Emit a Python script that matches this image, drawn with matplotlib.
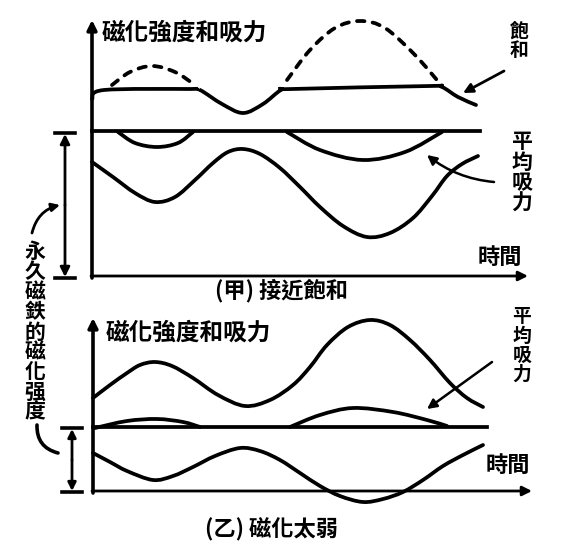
import numpy as np
import matplotlib.pyplot as plt
from matplotlib.path import Path
from matplotlib.patches import PathPatch

plt.rcParams['font.family'] = ['Noto Sans CJK TC', 'DejaVu Sans']

# ---- panel (甲): curves, (time px, level px) ----
jia_sat = [(92, 99), (104, 90), (190, 89), (200, 90), (222, 104), (243, 113), (263, 104),
           (281, 90), (292, 89), (430, 86), (442, 87), (458, 97), (476, 105)]
jia_dash1 = [(112, 85), (130, 72), (152, 66), (175, 72), (195, 85)]
jia_dash2 = [(287, 80), (310, 50), (335, 28), (360, 21), (385, 28), (415, 55), (442, 86)]
jia_force1 = [(118, 132), (135, 143), (157, 147), (178, 143), (193, 132)]
jia_force2 = [(287, 132), (320, 150), (363, 160), (405, 152), (442, 132)]
jia_mag = [(92, 162), (113, 177), (135, 193), (155, 202), (175, 197), (195, 180), (213, 163),
           (228, 152), (243, 149), (260, 154), (280, 168), (300, 187), (320, 207), (343, 226),
           (367, 237), (390, 233), (413, 218), (432, 196), (447, 176), (462, 164), (478, 156)]
jia_level = 131

# ---- panel (乙) ----
yi_top = [(93, 398), (110, 385), (127, 373), (140, 365), (155, 362), (172, 366), (193, 378),
          (218, 395), (245, 406), (270, 400), (293, 385), (310, 367), (327, 345), (348, 327),
          (370, 320), (390, 325), (410, 340), (430, 360), (450, 383), (467, 398), (483, 407)]
yi_force1 = [(95, 428), (127, 421), (157, 419), (183, 422), (200, 427)]
yi_force2 = [(290, 427), (320, 415), (353, 408), (393, 412), (427, 420), (447, 426)]
yi_mag = [(93, 453), (110, 462), (127, 471), (153, 480), (173, 476), (193, 467), (215, 456),
          (240, 448), (260, 451), (280, 460), (300, 473), (320, 486), (340, 496), (363, 502),
          (383, 499), (403, 492), (423, 480), (443, 466), (463, 455), (483, 445)]
yi_level = 427

ylabel = '磁化強度和吸力'
xlabel = '時間'
cap_jia = '(甲) 接近飽和'
cap_yi = '(乙) 磁化太弱'
side_label = '永久磁鉄的磁化强度'


def smooth(ax, pts, **kw):
    p = np.array(pts, dtype=float)
    ext = np.vstack([p[0], p, p[-1]])
    verts = [p[0]]
    codes = [Path.MOVETO]
    for i in range(1, len(ext) - 2):
        c1 = ext[i] + (ext[i + 1] - ext[i - 1]) / 6
        c2 = ext[i + 1] - (ext[i + 2] - ext[i]) / 6
        verts += [c1, c2, ext[i + 1]]
        codes += [Path.CURVE4] * 3
    ax.add_patch(PathPatch(Path(verts, codes), fill=False, capstyle='round', **kw))


def arrow(ax, start, end, style='-|>', lw=2.0, conn='arc3', ms=12):
    ax.annotate('', xy=end, xytext=start,
                arrowprops=dict(arrowstyle=style, lw=lw, color='black', mutation_scale=ms,
                                connectionstyle=conn, shrinkA=0, shrinkB=0))


def vtext(ax, x, y, s, size=15, step=20):
    # one character per text, stacked downward
    for i, ch in enumerate(s):
        ax.text(x, y + i * step, ch, fontsize=size, fontweight='bold',
                ha='center', va='center')


fig = plt.figure(figsize=(5.61, 5.58), dpi=100)
ax = fig.add_axes([0, 0, 1, 1])
ax.set_xlim(0, 561)
ax.set_ylim(558, 0)
ax.axis('off')

lw = 2.7

# panel 甲 axes
arrow(ax, (92, 278), (92, 20), lw=2.6, ms=14)
arrow(ax, (91, 276), (528, 276), lw=2.0, ms=14)
ax.plot([92, 480], [jia_level, jia_level], color='black', lw=lw)
smooth(ax, jia_sat, lw=lw, color='black')
smooth(ax, jia_dash1, lw=lw, color='black', linestyle=(0, (2, 2.2)))
smooth(ax, jia_dash2, lw=lw, color='black', linestyle=(0, (2, 2.2)))
smooth(ax, jia_force1, lw=lw, color='black')
smooth(ax, jia_force2, lw=lw, color='black')
smooth(ax, jia_mag, lw=lw, color='black')

ax.text(102, 33, ylabel, fontsize=17, fontweight='bold', ha='left', va='center')
ax.text(500, 257, xlabel, fontsize=16, fontweight='bold', ha='center', va='center')
ax.text(282, 291, cap_jia, fontsize=16, fontweight='bold', ha='center', va='center')
vtext(ax, 519, 31, '飽和', size=13.5, step=19)
arrow(ax, (504, 71), (463, 93), lw=2.0, ms=14)
vtext(ax, 522, 142, '平均吸力', size=15, step=20.5)
arrow(ax, (494, 182), (427, 155), lw=1.8, conn='arc3,rad=-0.15', ms=14)

# left double arrow for 甲
arrow(ax, (65, 205), (65, 134), lw=2.0, ms=14)
arrow(ax, (65, 205), (65, 277), lw=2.0, ms=14)
ax.plot([55, 75], [133, 133], color='black', lw=2.6)
ax.plot([55, 75], [278, 278], color='black', lw=2.6)

# side label
vtext(ax, 35, 252, side_label, size=15, step=20)
arrow(ax, (32, 233), (60, 205), lw=2.0, conn='arc3,rad=-0.3', ms=12)
arrow(ax, (37, 425), (58, 453), style='-', lw=2.6, conn='arc3,rad=0.4')

# panel 乙 axes
arrow(ax, (93, 493), (93, 318), lw=2.6, ms=14)
arrow(ax, (92, 491), (532, 491), lw=2.0, ms=14)
ax.plot([93, 487], [yi_level, yi_level], color='black', lw=lw)
smooth(ax, yi_top, lw=lw, color='black')
smooth(ax, yi_force1, lw=lw, color='black')
smooth(ax, yi_force2, lw=lw, color='black')
smooth(ax, yi_mag, lw=lw, color='black')

ax.text(106, 333, ylabel, fontsize=17, fontweight='bold', ha='left', va='center')
ax.text(508, 465, xlabel, fontsize=16, fontweight='bold', ha='center', va='center')
ax.text(272, 530, cap_yi, fontsize=16, fontweight='bold', ha='center', va='center')
vtext(ax, 522, 317, '平均吸力', size=13.5, step=19)
arrow(ax, (492, 362), (427, 409), lw=1.8, ms=14)

# left double arrow for 乙
arrow(ax, (72, 460), (72, 429), lw=2.0, ms=12)
arrow(ax, (72, 460), (72, 491), lw=2.0, ms=12)
ax.plot([62, 82], [428, 428], color='black', lw=2.6)
ax.plot([62, 82], [492, 492], color='black', lw=2.6)

fig.savefig('out.png', dpi=100, facecolor='white')
